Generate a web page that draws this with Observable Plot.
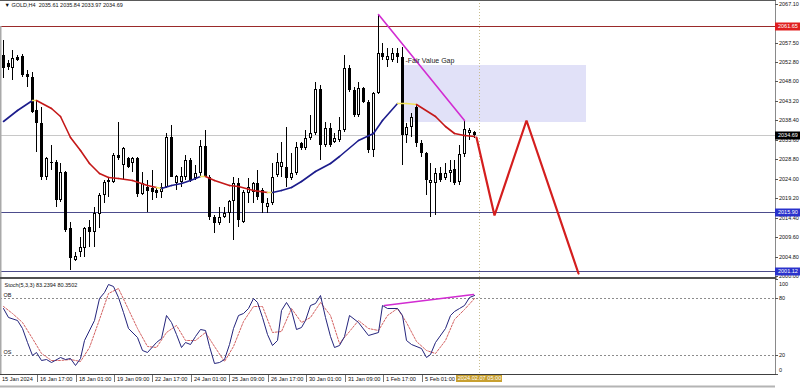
<!DOCTYPE html>
<html><head><meta charset="utf-8">
<script src="https://cdn.jsdelivr.net/npm/d3@7"></script>
<script src="https://cdn.jsdelivr.net/npm/@observablehq/plot@0.6"></script>
<style>
html,body{margin:0;padding:0;background:#fff;}
#wrap{width:800px;height:389px;position:relative;overflow:hidden;background:#fff;}
#wrap svg{display:block;}
</style></head><body><div id="wrap"></div>
<script>
// ---- data (H4 candles, GOLD) ----
const opens = [2054.55,2052.6,2051.35,2054.05,2054.3,2049.8,2049.0,2041.0,2037.8,2024.5,
2028.2,2028.2,2018.85,2025.75,2011.95,2004.05,2005.8,2007.0,2012.2,2010.95,
2015.4,2020.1,2023.25,2023.25,2029.9,2027.45,2029.2,2027.95,2029.2,2020.3,
2022.0,2021.8,2021.3,2020.8,2022.05,2034.35,2023.0,2023.25,2024.5,2028.7,
2024.25,2025.5,2032.15,2024.5,2014.65,2013.15,2014.65,2015.65,2018.6,2023.0,
2013.4,2020.55,2020.8,2023.0,2021.3,2016.9,2018.1,2025.0,2026.95,2026.95,
2024.25,2025.5,2032.9,2031.65,2034.1,2035.35,2046.2,2032.4,2036.6,2033.1,
2033.6,2036.1,2051.35,2045.9,2039.8,2046.45,2042.95,2031.15,2045.2,2055.05,
2053.3,2053.3,2055.05,2054.05,2034.85,2036.8,2041.75,2032.9,2030.4,2023.0,
2023.0,2025.5,2024.25,2025.5,2026.45,2023.25,2030.15,2035.35,2035.61];
const highs = [2058.25,2053.3,2055.8,2054.55,2054.8,2050.85,2050.4,2043.45,2041.75,2029.45,
2032.4,2028.7,2027.95,2026.0,2013.4,2005.8,2009.7,2012.2,2013.9,2016.9,
2020.55,2023.75,2024.5,2030.4,2038.05,2031.9,2029.45,2029.45,2029.45,2025.75,
2023.75,2026.2,2022.05,2023.0,2035.35,2037.3,2025.0,2026.95,2029.9,2029.2,
2027.45,2033.6,2036.1,2025.0,2015.15,2016.9,2017.1,2018.85,2024.5,2024.25,
2021.3,2024.25,2023.25,2026.2,2021.8,2019.35,2027.95,2030.4,2033.15,2036.8,
2030.4,2033.15,2033.15,2036.1,2039.8,2047.9,2047.15,2038.05,2037.8,2035.35,
2039.3,2054.55,2052.1,2046.7,2047.9,2046.7,2043.45,2045.45,2064.65,2057.5,
2056.3,2056.3,2056.3,2056.55,2037.8,2040.25,2042.25,2033.6,2030.65,2027.95,
2026.7,2026.95,2027.95,2028.7,2028.7,2032.4,2038.3,2036.6,2035.84];
const lows = [2048.9,2050.85,2048.4,2053.1,2049.1,2046.7,2040.3,2030.65,2023.75,2023.75,
2026.2,2017.1,2018.35,2010.95,2001.6,2003.6,2004.8,2004.8,2007.25,2007.25,
2011.95,2018.1,2019.6,2023.0,2028.7,2023.75,2026.7,2025.75,2019.6,2020.1,
2015.9,2018.85,2019.35,2019.35,2021.8,2024.3,2021.3,2022.05,2023.75,2023.25,
2023.75,2024.5,2024.3,2013.9,2010.7,2012.7,2014.4,2013.15,2009.0,2012.2,
2013.15,2018.1,2018.1,2018.85,2015.65,2015.65,2017.6,2024.5,2024.5,2022.05,
2023.75,2025.0,2031.15,2031.15,2033.6,2034.85,2028.7,2031.9,2031.9,2032.9,
2033.1,2035.6,2045.45,2039.3,2039.3,2042.7,2030.4,2029.45,2045.0,2053.3,
2051.6,2052.85,2052.6,2027.45,2032.9,2034.35,2031.9,2029.45,2020.1,2014.65,
2015.15,2023.25,2023.75,2023.25,2022.5,2022.5,2029.45,2033.6,2033.97];
const closes = [2051.35,2051.6,2053.8,2053.3,2049.6,2049.0,2040.5,2037.8,2024.5,2029.2,
2027.8,2018.85,2025.75,2011.45,2004.55,2005.05,2007.25,2011.95,2010.95,2015.65,
2020.1,2023.25,2023.6,2029.9,2029.2,2031.65,2026.95,2029.2,2020.3,2023.0,
2021.0,2020.8,2020.55,2022.05,2034.35,2024.5,2024.75,2024.75,2028.7,2023.75,
2025.5,2032.15,2024.5,2014.65,2013.15,2014.65,2015.65,2018.6,2023.0,2013.9,
2020.8,2022.05,2023.0,2019.6,2018.1,2018.1,2024.5,2028.2,2028.2,2024.25,
2025.5,2031.9,2031.65,2034.1,2035.35,2046.2,2032.4,2036.6,2032.4,2034.1,
2036.1,2051.35,2045.9,2039.8,2046.45,2042.95,2031.15,2045.2,2055.05,2054.05,
2054.3,2055.05,2054.05,2034.85,2036.8,2039.3,2032.9,2030.4,2023.75,2023.75,
2025.5,2023.75,2025.5,2026.2,2023.0,2030.15,2036.3,2036.1,2034.69];

// moving average readings (bar index, price)
const maBars   = [0,3,6,7,10,12,14,16,18,20,22,24,27,30,32,33,35,37,39,41,42,44,47,49,52,55,56,58,60,62,65,68,70,74,77,79,82,84,86,90,92,94,96,98];
const maValues = [2038.3,2041.0,2043.45,2043.4,2041.5,2039.35,2034.4,2031.15,2027.95,2025.5,2024.5,2024.25,2023.6,2022.5,2021.9,2021.8,2022.5,2023.0,2023.75,2024.6,2024.6,2023.75,2022.5,2022.1,2021.3,2020.65,2020.62,2021.3,2021.85,2023.35,2025.8,2027.9,2029.5,2033.6,2035.3,2038.55,2042.65,2042.6,2042.4,2039.35,2037.05,2035.3,2034.75,2034.45];

// stochastic readings
const stochBars = [0,1,3,4,5,6,7,8,9,10,12,13,14,15,16,17,19,20,21,22,23,24,25,26,28,29,30,32,33,34,35,36,37,38,39,40,41,42,43,44,45,46,47,48,49,50,51,52,53,54,55,56,57,58,59,60,61,62,63,64,65,66,67,68,69,70,71,72,74,76,78,79,80,82,83,84,85,87,88,89,90,92,93,94,95,96,97,98];
const stochMain = [69,60,57,48,34,20,23.5,14.7,16,13,18,16,17,9.5,17,36,57,80,86.6,94.7,92.6,81.4,65,48,39.3,25,23.5,34,37.5,62,55,42,28.8,34,32,40,47,46,30,12,13,15.5,32,48,62,64,70,80,76,60,42,30.5,36,67,76,67,47,50,57,72.6,75,83,60,40,28.8,30.5,40,62,55,41,44.5,72.6,69,69,62,36,31.6,27,17.5,21,34,48,62,66,69,72.6,81.4,83.24];
const signalBars = [0,2,4,6,8,10,12,14,16,18,20,22,24,26,28,30,32,34,36,38,40,42,44,46,48,50,52,54,56,58,60,62,64,66,68,70,72,74,76,78,80,82,84,86,88,90,92,94,96,98];
const stochSignal = [72,64,55,38,22,15,15,16,14,28,58,85,90,68,48,30,28,44,52,36,36,44,30,14,30,56,72,72,44,45,70,55,60,76,62,33,45,57,48,46,62,70,55,35,25,22,36,58,68,80.35];
const stochLevels = [80, 20];
const stochTicks = [100, 80, 20, 0];

// annotations
const fvgBars = [83.5, 121.3];
const fvgPrices = [2038.1, 2052.1];
const fvgLabel = "-Fair Value Gap";
const fvgLabelBar = 83.7, fvgLabelPrice = 2053.4;
const trendBars = [78, 96];
const trendPrices = [2064.65, 2038.4];
const zigBars = [98.5, 102.3, 108.9, 119.7];
const zigPrices = [2034.4, 2015.05, 2038.5, 2000.7];
const divBars = [79.3, 97.8];
const divValues = [72.6, 84.2];
const levelPrices = [2061.65, 2034.69, 2015.90, 2001.12];
const levelLabels = ["2061.65", "2034.69", "2015.90", "2001.12"];
const priceTicks = [2067.10,2057.50,2052.80,2048.00,2043.20,2038.40,2033.60,2028.80,2024.00,2019.20,2014.40,2009.60,2004.80,2000.00];
const priceTickLabels = ["2067.10","2057.50","2052.80","2048.00","2043.20","2038.40","2033.60","2028.80","2024.00","2019.20","2014.40","2009.60","2004.80","2000.00"];
const timeTickBars = [0,8,16,24,32,40,48,56,64,72,80,88];
const timeTickLabels = ["15 Jan 2024","16 Jan 17:00","18 Jan 01:00","19 Jan 09:00","22 Jan 17:00","24 Jan 01:00","25 Jan 09:00","26 Jan 17:00","30 Jan 01:00","31 Jan 09:00","1 Feb 17:00","5 Feb 01:00"];
const cursorBar = 99.1;
const cursorLabel = "2024.02.07 05:00";
const titleText = "\u25BC GOLD,H4  2035.61 2035.84 2033.97 2034.69";
const stochTitle = "Stoch(5,3,3) 83.2394 80.3502";

// ---- layout / style ----
const FONT = "'Liberation Sans', Arial, sans-serif";
const xDomain = [-0.5618, 160.696];
const xMax = xDomain[1];
const levelLineColors = ["#9a2a2a", "#c8c8c8", "#4c4c8c", "#4c4c8c"];
const levelBoxColors = ["#e01e1e", "#000000", "#2a32cc", "#2a32cc"];

const candles = opens.map((o, i) => ({i, o, h: highs[i], l: lows[i], c: closes[i], up: closes[i] >= o}));
const maSegs = maBars.slice(1).map((b, k) => ({
  x1: maBars[k], y1: maValues[k], x2: b, y2: maValues[k + 1],
  s: (maValues[k + 1] - maValues[k]) / (b - maBars[k])
}));
const maColor = d => Math.abs(d.s) < 0.11 ? "#f2e25a" : d.s > 0 ? "#1c1c8c" : "#c41818";

const main = Plot.plot({
  width: 800, height: 279, marginTop: 0, marginBottom: 2, marginLeft: 0, marginRight: 25,
  x: {domain: xDomain, round: true, axis: null},
  y: {domain: [1999.75, 2068.09], round: true, axis: null},
  color: {type: "identity"},
  style: {fontFamily: FONT, background: "#fff", overflow: "visible"},
  marks: [
    Plot.rect([0], {x1: () => fvgBars[0], x2: () => fvgBars[1], y1: () => fvgPrices[0], y2: () => fvgPrices[1], fill: "#e1e1f8"}),
    Plot.ruleY(levelPrices, {y: d => d, stroke: (d, i) => levelLineColors[i], strokeWidth: 1}),
    Plot.ruleX([cursorBar], {x: d => d, stroke: "#c9bd8e", strokeDasharray: "1,2"}),
    Plot.ruleX([xDomain[0]], {x: d => d, y1: levelPrices[0], y2: 1999.75, stroke: "#a9a9a9", strokeWidth: 2}),
    Plot.ruleX(candles, {x: "i", y1: "l", y2: "h", stroke: "#000", strokeWidth: 1}),
    Plot.ruleX(candles, {x: "i", y1: d => Math.max(d.o, d.c), y2: d => Math.min(d.o, d.c), stroke: "#000", strokeWidth: 3}),
    Plot.ruleX(candles.filter(d => d.up), {x: "i", y1: "c", y2: "o", stroke: "#fff", strokeWidth: 1, insetTop: 1, insetBottom: 1}),
    Plot.link(maSegs, {x1: "x1", y1: "y1", x2: "x2", y2: "y2", stroke: maColor, strokeWidth: 1.6, strokeLinecap: "round"}),
    Plot.line(trendBars.map((b, k) => ({b, p: trendPrices[k]})), {x: "b", y: "p", stroke: "#d22cd2", strokeWidth: 1.6}),
    Plot.line(zigBars.map((b, k) => ({b, p: zigPrices[k]})), {x: "b", y: "p", stroke: "#d41e1e", strokeWidth: 2.2, strokeLinejoin: "miter"}),
    Plot.text([fvgLabel], {x: () => fvgLabelBar, y: () => fvgLabelPrice, text: d => d, textAnchor: "start", lineAnchor: "middle", fontSize: 7, fill: "#222"}),
    Plot.ruleX([xMax], {x: d => d, stroke: "#8a8a8a"}),
    Plot.ruleY(priceTicks, {y: d => d, x1: xMax, x2: xMax + 0.65, stroke: "#555"}),
    Plot.text(priceTicks, {y: d => d, text: (d, i) => priceTickLabels[i], frameAnchor: "right", textAnchor: "start", lineAnchor: "middle", dx: 3.5, fontSize: 5.5, fill: "#111"}),
    Plot.ruleY(levelPrices, {y: d => d, x1: xMax + 0.05, x2: xMax + 6, stroke: (d, i) => levelBoxColors[i], strokeWidth: 8}),
    Plot.text(levelPrices, {y: d => d, text: (d, i) => levelLabels[i], frameAnchor: "right", textAnchor: "start", lineAnchor: "middle", dx: 2.5, fontSize: 5.5, fill: "#fff"}),
    Plot.text([titleText], {frameAnchor: "top-left", text: d => d, dx: 4, dy: 5, textAnchor: "start", lineAnchor: "middle", fontSize: 5.5, fill: "#111"}),
    Plot.frame({anchor: "top", stroke: "#5a5a5a"}),
    Plot.frame({anchor: "bottom", stroke: "#505050", strokeWidth: 2, dy: 0.5})
  ]
});

const sMain = stochBars.map((b, k) => ({b, v: stochMain[k]}));
const sSig = signalBars.map((b, k) => ({b, v: stochSignal[k]}));
const stoch = Plot.plot({
  width: 800, height: 110, marginTop: 0, marginBottom: 15, marginLeft: 0, marginRight: 25,
  x: {domain: xDomain, round: true, axis: null},
  y: {domain: [0, 100], round: true, axis: null},
  color: {type: "identity"},
  style: {fontFamily: FONT, background: "#fff", overflow: "visible"},
  marks: [
    Plot.ruleY(stochLevels, {y: d => d, stroke: "#8c8c8c", strokeDasharray: "2,2"}),
    Plot.ruleX([cursorBar], {x: d => d, stroke: "#c9bd8e", strokeDasharray: "1,2"}),
    Plot.ruleX([xDomain[0]], {x: d => d, stroke: "#a9a9a9", strokeWidth: 2}),
    Plot.line(sSig, {x: "b", y: "v", stroke: "#d46262", strokeWidth: 1, strokeDasharray: "2,1.5"}),
    Plot.line(sMain, {x: "b", y: "v", stroke: "#24247c", strokeWidth: 1}),
    Plot.line(divBars.map((b, k) => ({b, v: divValues[k]})), {x: "b", y: "v", stroke: "#d22cd2", strokeWidth: 1.6}),
    Plot.ruleX([xMax], {x: d => d, stroke: "#8a8a8a"}),
    Plot.ruleY(stochTicks, {y: d => d, x1: xMax, x2: xMax + 0.65, stroke: "#555"}),
    Plot.text([stochTicks[0]], {y: d => d, text: d => String(d), frameAnchor: "right", textAnchor: "start", lineAnchor: "middle", dx: 3.5, dy: 5, fontSize: 5.5, fill: "#111"}),
    Plot.text(stochLevels, {y: d => d, text: d => String(d), frameAnchor: "right", textAnchor: "start", lineAnchor: "middle", dx: 3.5, fontSize: 5.5, fill: "#111"}),
    Plot.text([stochTicks[3]], {y: d => d, text: d => String(d), frameAnchor: "right", textAnchor: "start", lineAnchor: "middle", dx: 3.5, dy: -4, fontSize: 5.5, fill: "#111"}),
    Plot.text(["OB"], {y: () => stochLevels[0], text: d => d, frameAnchor: "left", textAnchor: "start", lineAnchor: "middle", dx: 3, dy: -3, fontSize: 5.5, fill: "#111"}),
    Plot.text(["OS"], {y: () => stochLevels[1], text: d => d, frameAnchor: "left", textAnchor: "start", lineAnchor: "middle", dx: 3, dy: -3, fontSize: 5.5, fill: "#111"}),
    Plot.text([stochTitle], {frameAnchor: "top-left", text: d => d, dx: 4, dy: 6, textAnchor: "start", lineAnchor: "middle", fontSize: 5.5, fill: "#111"}),
    Plot.frame({anchor: "bottom", stroke: "#404040"}),
    Plot.ruleX(timeTickBars, {x: d => d, y1: -1.5, y2: -8.5, dx: -4, stroke: "#777"}),
    Plot.text(timeTickBars, {x: d => d, text: (d, i) => timeTickLabels[i], frameAnchor: "bottom", textAnchor: "start", lineAnchor: "middle", dx: -1.5, dy: 5, fontSize: 5.6, fill: "#111"}),
    Plot.ruleY([0], {y: d => d, x1: cursorBar - 4.8, x2: cursorBar + 4.7, dy: 4, stroke: "#c8a030", strokeWidth: 7}),
    Plot.text([cursorLabel], {x: () => cursorBar, text: d => d, frameAnchor: "bottom", textAnchor: "middle", lineAnchor: "middle", dy: 4, fontSize: 5.6, fill: "#fff"}),
    Plot.ruleY([0], {y: d => d, dy: 12, stroke: "#b4b4b4", strokeWidth: 2})
  ]
});

const wrap = document.getElementById("wrap");
wrap.appendChild(main);
wrap.appendChild(stoch);
</script>
</body></html>
